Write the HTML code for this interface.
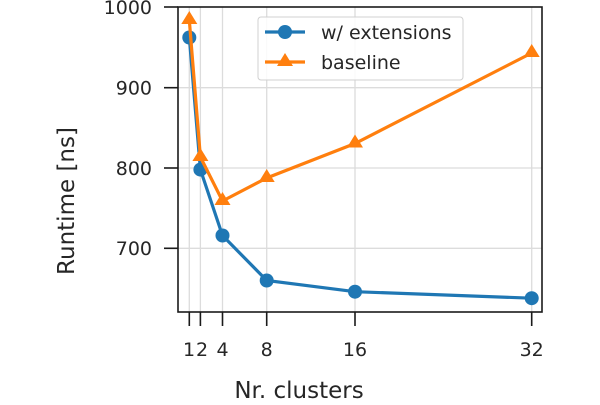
<!DOCTYPE html><html><head><style>body{margin:0;background:#fff}</style></head><body>
<svg width="600" height="400" xmlns="http://www.w3.org/2000/svg" font-family="DejaVu Sans, sans-serif" font-size="19" fill="#262626">
<g stroke="#dcdcdc" stroke-width="1.3">
<line x1="189.3" y1="7" x2="189.3" y2="312"/><line x1="200.4" y1="7" x2="200.4" y2="312"/><line x1="222.5" y1="7" x2="222.5" y2="312"/><line x1="266.7" y1="7" x2="266.7" y2="312"/><line x1="355" y1="7" x2="355" y2="312"/><line x1="531.7" y1="7" x2="531.7" y2="312"/>
<line x1="178" y1="87.7" x2="542" y2="87.7"/><line x1="178" y1="168" x2="542" y2="168"/><line x1="178" y1="248.3" x2="542" y2="248.3"/>
</g>
<rect x="178" y="7" width="364" height="305" fill="none" stroke="#1a1a1a" stroke-width="1.6"/>
<g stroke="#1a1a1a" stroke-width="1.6">
<line x1="189.3" y1="312" x2="189.3" y2="326"/><line x1="200.4" y1="312" x2="200.4" y2="326"/><line x1="222.5" y1="312" x2="222.5" y2="326"/><line x1="266.7" y1="312" x2="266.7" y2="326"/><line x1="355" y1="312" x2="355" y2="326"/><line x1="531.7" y1="312" x2="531.7" y2="326"/>
<line x1="164" y1="7" x2="178" y2="7"/><line x1="164" y1="87.7" x2="178" y2="87.7"/><line x1="164" y1="168" x2="178" y2="168"/><line x1="164" y1="248.3" x2="178" y2="248.3"/>
</g>
<g text-anchor="middle">
<text x="189" y="356">1</text><text x="202" y="356">2</text><text x="222.5" y="356">4</text><text x="266.7" y="356">8</text><text x="355" y="356">16</text><text x="531.7" y="356">32</text>
<text x="299" y="398" font-size="23">Nr. clusters</text>
<text transform="translate(74,201) rotate(-90)" font-size="23">Runtime [ns]</text>
</g>
<g text-anchor="end">
<text x="152" y="14">1000</text><text x="152" y="94.5">900</text><text x="152" y="175">800</text><text x="152" y="255">700</text>
</g>
<polyline fill="none" stroke="#1f77b4" stroke-width="3.2" points="189.3,37.5 200.4,169.6 222.5,235.5 266.7,280.5 355,291.7 531.7,298.2"/>
<g fill="#1f77b4"><circle cx="189.3" cy="37.5" r="7"/><circle cx="200.4" cy="169.6" r="7"/><circle cx="222.5" cy="235.5" r="7"/><circle cx="266.7" cy="280.5" r="7"/><circle cx="355" cy="291.7" r="7"/><circle cx="531.7" cy="298.2" r="7"/></g>
<polyline fill="none" stroke="#ff7f0e" stroke-width="3.2" points="189.3,20 200.4,157 222.5,201 266.7,178 355,143.5 531.7,53"/>
<g fill="#ff7f0e">
<path d="M189.3,11 l8,13 h-16z"/><path d="M200.4,148 l8,13 h-16z"/><path d="M222.5,192 l8,13 h-16z"/><path d="M266.7,169 l8,13 h-16z"/><path d="M355,134.5 l8,13 h-16z"/><path d="M531.7,44 l8,13 h-16z"/>
</g>
<rect x="258" y="17" width="205" height="63" rx="3" fill="#fff" fill-opacity="0.85" stroke="#d0d0d0"/>
<line x1="265" y1="32" x2="305" y2="32" stroke="#1f77b4" stroke-width="3.2"/><circle cx="285" cy="32" r="7" fill="#1f77b4"/>
<line x1="265" y1="62" x2="305" y2="62" stroke="#ff7f0e" stroke-width="3.2"/><path d="M285,53 l8,13 h-16z" fill="#ff7f0e"/>
<text x="321" y="39" font-size="19">w/ extensions</text><text x="321" y="69" font-size="19">baseline</text>
</svg>
</body></html>
